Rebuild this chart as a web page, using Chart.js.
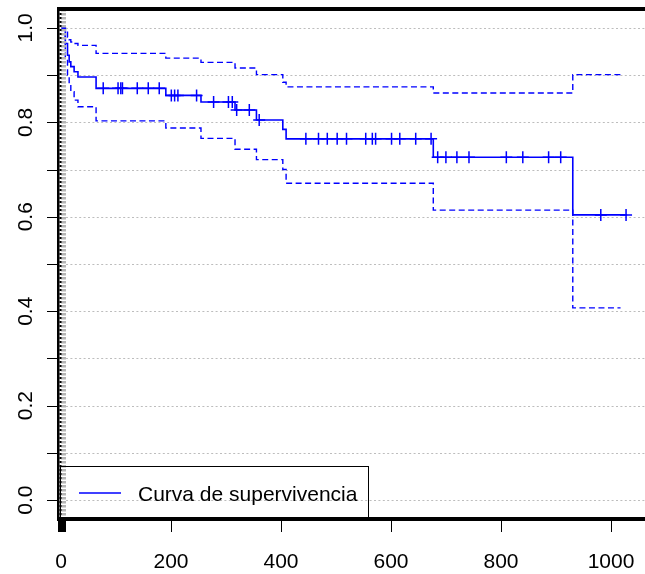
<!DOCTYPE html>
<html>
<head>
<meta charset="utf-8">
<script src="https://cdn.jsdelivr.net/npm/chart.js@4/dist/chart.umd.min.js"></script>
<style>
  html, body { margin: 0; padding: 0; background: #fff; }
  #wrap { width: 645px; height: 574px; position: relative; }
</style>
</head>
<body>
<div id="wrap"><canvas id="myChart"></canvas></div>
<script>

// Kaplan-Meier estimate: event times and survival after each step
var eventTimes = [0, 7, 11, 14, 17, 23, 30, 63, 190, 254, 316, 355, 403, 409, 677, 931, 1030];
var survival   = [1, 0.967, 0.942, 0.928, 0.918, 0.907, 0.896, 0.872, 0.857, 0.843, 0.826, 0.805, 0.785, 0.765, 0.726, 0.604, 0.604];

// 95% confidence band, same steps (drawn up to ciEnd)
var upperCI = [1, 0.991, 0.980, 0.975, 0.970, 0.967, 0.963, 0.946, 0.936, 0.927, 0.915, 0.901, 0.885, 0.875, 0.862, 0.901, 0.901];
var lowerCI = [1, 0.935, 0.900, 0.879, 0.865, 0.847, 0.833, 0.803, 0.788, 0.766, 0.743, 0.721, 0.700, 0.671, 0.614, 0.407, 0.407];
var ciEnd = 1018;

// censored observations
var censorTimes = [76, 103, 108, 111, 138, 158, 178,
                   200, 206, 212, 246,
                   277, 304, 311,
                   319, 342,
                   360,
                   445, 468, 484, 502, 519, 554, 566, 572, 601, 616, 645, 673,
                   685, 700, 720, 742, 810, 840, 887, 909,
                   982, 1028];

var xTickLabels = [0, 200, 400, 600, 800, 1000];
var yTickLabels = ['0.0', '0.2', '0.4', '0.6', '0.8', '1.0'];
var legendLabel = 'Curva de supervivencia';

var FONT = '21px "Liberation Sans", Arial, sans-serif';

function survAt(t){
    var s = 1;
    for (var i = 0; i < eventTimes.length; i++) {
        if (eventTimes[i] <= t) s = survival[i];
    }
    return s;
}

function stepPoints(values, endTime){
    var pts = [];
    for (var i = 0; i < eventTimes.length; i++) {
        if (eventTimes[i] < endTime) pts.push({x: eventTimes[i], y: values[i]});
    }
    pts.push({x: endTime, y: pts[pts.length - 1].y});
    return pts;
}

// dotted horizontal guides every 0.1
var gridPlugin = {
    id: 'gridLines',
    beforeDatasetsDraw: function(chart){
        var ctx = chart.ctx, a = chart.chartArea, ys = chart.scales.y;
        ctx.save();
        ctx.strokeStyle = '#bdbdbd';
        ctx.lineWidth = 1;
        ctx.setLineDash([2, 2.4]);
        for (var k = 0; k <= 10; k++) {
            var py = Math.round(ys.getPixelForValue(k / 10)) + 0.5;
            ctx.beginPath();
            ctx.moveTo(a.left + 6, py);
            ctx.lineTo(a.right, py);
            ctx.stroke();
        }
        ctx.restore();
    }
};

// box lines, ticks, tick labels and legend
var framePlugin = {
    id: 'frame',
    afterDraw: function(chart){
        var ctx = chart.ctx, a = chart.chartArea;
        var xs = chart.scales.x, ys = chart.scales.y;
        var x0 = xs.getPixelForValue(0);
        ctx.save();

        // left edge: gray dotted band with black rule
        ctx.lineWidth = 5;
        ctx.strokeStyle = '#b4b4b4';
        ctx.setLineDash([2.5, 1.5]);
        ctx.beginPath();
        ctx.moveTo(x0 + 2, a.top);
        ctx.lineTo(x0 + 2, a.bottom);
        ctx.stroke();
        ctx.lineWidth = 2;
        ctx.strokeStyle = '#000';
        ctx.setLineDash([2, 2]);
        ctx.beginPath();
        ctx.moveTo(x0 - 1, a.top);
        ctx.lineTo(x0 - 1, a.bottom);
        ctx.stroke();
        ctx.setLineDash([]);
        ctx.fillStyle = '#000';
        ctx.fillRect(a.left - 3, a.top - 2, 2.5, a.bottom - a.top + 4);

        // top and bottom rules
        ctx.fillRect(a.left - 3, a.top - 2, a.right - a.left + 3, 4);
        ctx.fillRect(a.left - 3, a.bottom - 2, a.right - a.left + 3, 4);

        // x ticks and labels
        ctx.lineWidth = 1;
        ctx.strokeStyle = '#000';
        ctx.font = FONT;
        ctx.textAlign = 'center';
        ctx.textBaseline = 'alphabetic';
        for (var i = 0; i < xTickLabels.length; i++) {
            var px = Math.round(xs.getPixelForValue(xTickLabels[i]));
            if (xTickLabels[i] === 0) {
                ctx.fillRect(a.left - 2, a.bottom, 8, 13);
            } else {
                ctx.beginPath();
                ctx.moveTo(px + 0.5, a.bottom);
                ctx.lineTo(px + 0.5, a.bottom + 13);
                ctx.stroke();
            }
            ctx.fillText(String(xTickLabels[i]), px, 567.5);
        }

        // y ticks every 0.1, labels every 0.2
        for (var k = 0; k <= 10; k++) {
            var py = Math.round(ys.getPixelForValue(k / 10)) + 0.5;
            ctx.beginPath();
            ctx.moveTo(a.left - 13, py);
            ctx.lineTo(a.left - 1, py);
            ctx.stroke();
        }
        for (var j = 0; j < yTickLabels.length; j++) {
            var ly = ys.getPixelForValue(parseFloat(yTickLabels[j]));
            ctx.save();
            ctx.translate(31.5, ly);
            ctx.rotate(-Math.PI / 2);
            ctx.fillText(yTickLabels[j], 0, 0);
            ctx.restore();
        }

        // legend box
        ctx.strokeRect(a.left + 0.5, 466.5, 308, a.bottom - 466);
        ctx.strokeStyle = '#0000ff';
        ctx.lineWidth = 1.5;
        ctx.beginPath();
        ctx.moveTo(79, 493);
        ctx.lineTo(121, 493);
        ctx.stroke();
        ctx.fillStyle = '#000';
        ctx.textAlign = 'left';
        ctx.fillText(legendLabel, 138, 500.5);

        ctx.restore();
    }
};

document.addEventListener('DOMContentLoaded', drawChart);

function drawChart(){

    var censorData = [];
    for (var i = 0; i < censorTimes.length; i++) {
        censorData.push({x: censorTimes[i], y: survAt(censorTimes[i])});
    }

    var ctx = document.getElementById('myChart').getContext('2d');
    var chart = new Chart(ctx, {
        type: 'line',
        data: {
            datasets: [{
                label: legendLabel,
                borderColor: '#0000ff',
                borderWidth: 1.6,
                fill: false,
                stepped: 'before',
                pointRadius: 0,
                data: stepPoints(survival, 1030)
            },
            {
                label: 'upper',
                borderColor: '#0000ff',
                borderWidth: 1.4,
                borderDash: [6, 3.5],
                fill: false,
                stepped: 'before',
                pointRadius: 0,
                data: stepPoints(upperCI, ciEnd)
            },
            {
                label: 'lower',
                borderColor: '#0000ff',
                borderWidth: 1.4,
                borderDash: [6, 3.5],
                fill: false,
                stepped: 'before',
                pointRadius: 0,
                data: stepPoints(lowerCI, ciEnd)
            },
            {
                type: 'scatter',
                label: 'censored',
                borderColor: '#0000ff',
                borderWidth: 1.5,
                pointStyle: 'cross',
                pointRadius: 6,
                showLine: false,
                data: censorData
            }]
        },
        options: {
            animation: {duration: 0},
            responsive: true,
            maintainAspectRatio: false,
            layout: {autoPadding: false, padding: {left: 60, top: 9, right: 0, bottom: 55}},
            plugins: {legend: {display: false}, tooltip: {enabled: false}},
            scales: {
                x: {type: 'linear', min: -2.7, max: 1062.5, display: false},
                y: {type: 'linear', min: -0.04, max: 1.04, display: false}
            }
        },
        plugins: [gridPlugin, framePlugin]
    });
}
</script>
</body>
</html>
